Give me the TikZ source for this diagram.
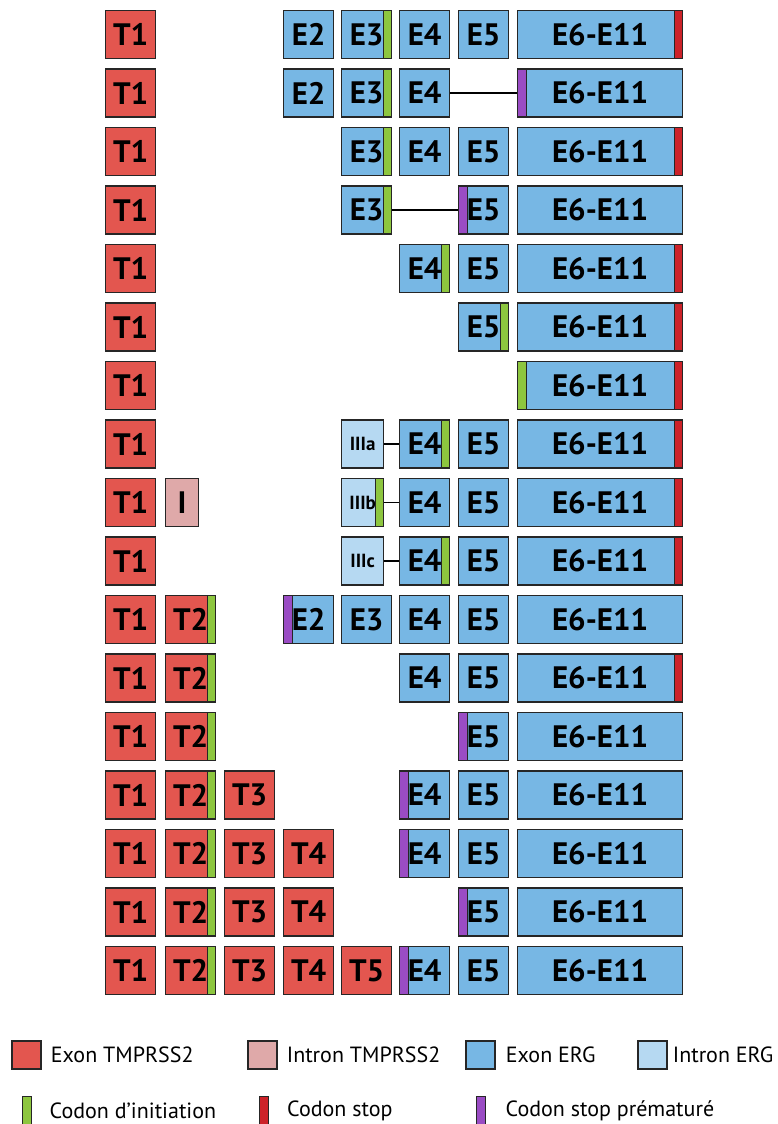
\documentclass[tikz,border=0pt]{standalone}
\usepackage{fontspec}
\setmainfont{PT Sans}
\usepackage{tikz}
\usetikzlibrary{positioning}
\definecolor{tmpexon}{HTML}{E3564F}
\definecolor{tmpintron}{HTML}{DFA9A9}
\definecolor{ergexon}{HTML}{77B7E4}
\definecolor{ergintron}{HTML}{B6D9F2}
\definecolor{codinit}{HTML}{8DC63F}
\definecolor{codstop}{HTML}{CC2229}
\definecolor{codprem}{HTML}{9A4CC4}

\begin{document}
\begin{tikzpicture}[x=1pt,y=-1pt,
		box/.style={draw=black!85,line width=1.3pt,inner sep=0pt,anchor=west,
			minimum width=50pt,minimum height=48pt,font=\bfseries\fontsize{31}{31}\selectfont},
		tmp/.style={box,fill=tmpexon},
		tmpin/.style={box,fill=tmpintron,minimum width=33pt},
		erg/.style={box,fill=ergexon},
		ergin/.style={box,fill=ergintron,minimum width=42pt,font=\bfseries\fontsize{19}{19}\selectfont},
		long/.style={erg,minimum width=165pt},
		init r/.style={path picture={\draw[fill=codinit,line width=0.8pt] ([xshift=-8.5pt]path picture bounding box.north east) rectangle (path picture bounding box.south east);}},
		stop r/.style={path picture={\draw[fill=codstop,line width=0.8pt] ([xshift=-8.5pt]path picture bounding box.north east) rectangle (path picture bounding box.south east);}},
		prem l/.style={path picture={\draw[fill=codprem,line width=0.8pt] (path picture bounding box.north west) rectangle ([xshift=8.5pt]path picture bounding box.south west);}},
		init l stop r/.style={path picture={\draw[fill=codinit,line width=0.8pt] (path picture bounding box.north west) rectangle ([xshift=8.5pt]path picture bounding box.south west);
				\draw[fill=codstop,line width=0.8pt] ([xshift=-8.5pt]path picture bounding box.north east) rectangle (path picture bounding box.south east);}},
		link/.style={line width=1.3pt},
		legsq/.style={draw=black!85,line width=1.3pt,inner sep=0pt,minimum width=29pt,minimum height=28pt},
		legbar/.style={draw=black!85,line width=1pt,inner sep=0pt,minimum width=9pt,minimum height=30pt},
		legtext/.style={inner sep=0pt,font=\fontsize{22}{22}\selectfont}]
	\useasboundingbox (0,0) rectangle (777,1124);

	\node[tmp] (r1t1) at (105,34.5) {T1};
	\node[erg] (r1e2) at (283,34.5) {E2};
	\node[erg,init r] (r1e3) at (341,34.5) {E3};
	\node[erg] (r1e4) at (399,34.5) {E4};
	\node[erg] (r1e5) at (458,34.5) {E5};
	\node[long,stop r] (r1e6) at (517,34.5) {E6-E11};

	\node[tmp] (r2t1) at (105,93) {T1};
	\node[erg] (r2e2) at (283,93) {E2};
	\node[erg,init r] (r2e3) at (341,93) {E3};
	\node[erg] (r2e4) at (399,93) {E4};
	\node[long,prem l] (r2e6) at (517,93) {E6-E11};
	\draw[link] (r2e4) -- (r2e6);

	\node[tmp] (r3t1) at (105,151.5) {T1};
	\node[erg,init r] (r3e3) at (341,151.5) {E3};
	\node[erg] (r3e4) at (399,151.5) {E4};
	\node[erg] (r3e5) at (458,151.5) {E5};
	\node[long,stop r] (r3e6) at (517,151.5) {E6-E11};

	\node[tmp] (r4t1) at (105,210) {T1};
	\node[erg,init r] (r4e3) at (341,210) {E3};
	\node[erg,prem l] (r4e5) at (458,210) {E5};
	\node[long] (r4e6) at (517,210) {E6-E11};
	\draw[link] (r4e3) -- (r4e5);

	\node[tmp] (r5t1) at (105,268.5) {T1};
	\node[erg,init r] (r5e4) at (399,268.5) {E4};
	\node[erg] (r5e5) at (458,268.5) {E5};
	\node[long,stop r] (r5e6) at (517,268.5) {E6-E11};

	\node[tmp] (r6t1) at (105,327) {T1};
	\node[erg,init r] (r6e5) at (458,327) {E5};
	\node[long,stop r] (r6e6) at (517,327) {E6-E11};

	\node[tmp] (r7t1) at (105,385.5) {T1};
	\node[long,init l stop r] (r7e6) at (517,385.5) {E6-E11};

	\node[tmp] (r8t1) at (105,444) {T1};
	\node[ergin] (r8i3) at (341,444) {IIIa};
	\node[erg,init r] (r8e4) at (399,444) {E4};
	\node[erg] (r8e5) at (458,444) {E5};
	\node[long,stop r] (r8e6) at (517,444) {E6-E11};
	\draw[link] (r8i3) -- (r8e4);

	\node[tmp] (r9t1) at (105,502.5) {T1};
	\node[tmpin] (r9i1) at (165,502.5) {I};
	\node[ergin,init r] (r9i3) at (341,502.5) {IIIb};
	\node[erg] (r9e4) at (399,502.5) {E4};
	\node[erg] (r9e5) at (458,502.5) {E5};
	\node[long,stop r] (r9e6) at (517,502.5) {E6-E11};
	\draw[link] (r9i3) -- (r9e4);

	\node[tmp] (r10t1) at (105,561) {T1};
	\node[ergin] (r10i3) at (341,561) {IIIc};
	\node[erg,init r] (r10e4) at (399,561) {E4};
	\node[erg] (r10e5) at (458,561) {E5};
	\node[long,stop r] (r10e6) at (517,561) {E6-E11};
	\draw[link] (r10i3) -- (r10e4);

	\node[tmp] (r11t1) at (105,619.5) {T1};
	\node[tmp,init r] (r11t2) at (165,619.5) {T2};
	\node[erg,prem l] (r11e2) at (283,619.5) {E2};
	\node[erg] (r11e3) at (341,619.5) {E3};
	\node[erg] (r11e4) at (399,619.5) {E4};
	\node[erg] (r11e5) at (458,619.5) {E5};
	\node[long] (r11e6) at (517,619.5) {E6-E11};

	\node[tmp] (r12t1) at (105,678) {T1};
	\node[tmp,init r] (r12t2) at (165,678) {T2};
	\node[erg] (r12e4) at (399,678) {E4};
	\node[erg] (r12e5) at (458,678) {E5};
	\node[long,stop r] (r12e6) at (517,678) {E6-E11};

	\node[tmp] (r13t1) at (105,736.5) {T1};
	\node[tmp,init r] (r13t2) at (165,736.5) {T2};
	\node[erg,prem l] (r13e5) at (458,736.5) {E5};
	\node[long] (r13e6) at (517,736.5) {E6-E11};

	\node[tmp] (r14t1) at (105,795) {T1};
	\node[tmp,init r] (r14t2) at (165,795) {T2};
	\node[tmp] (r14t3) at (224,795) {T3};
	\node[erg,prem l] (r14e4) at (399,795) {E4};
	\node[erg] (r14e5) at (458,795) {E5};
	\node[long] (r14e6) at (517,795) {E6-E11};

	\node[tmp] (r15t1) at (105,853.5) {T1};
	\node[tmp,init r] (r15t2) at (165,853.5) {T2};
	\node[tmp] (r15t3) at (224,853.5) {T3};
	\node[tmp] (r15t4) at (283,853.5) {T4};
	\node[erg,prem l] (r15e4) at (399,853.5) {E4};
	\node[erg] (r15e5) at (458,853.5) {E5};
	\node[long] (r15e6) at (517,853.5) {E6-E11};

	\node[tmp] (r16t1) at (105,912) {T1};
	\node[tmp,init r] (r16t2) at (165,912) {T2};
	\node[tmp] (r16t3) at (224,912) {T3};
	\node[tmp] (r16t4) at (283,912) {T4};
	\node[erg,prem l] (r16e5) at (458,912) {E5};
	\node[long] (r16e6) at (517,912) {E6-E11};

	\node[tmp] (r17t1) at (105,970.5) {T1};
	\node[tmp,init r] (r17t2) at (165,970.5) {T2};
	\node[tmp] (r17t3) at (224,970.5) {T3};
	\node[tmp] (r17t4) at (283,970.5) {T4};
	\node[tmp] (r17t5) at (341,970.5) {T5};
	\node[erg,prem l] (r17e4) at (399,970.5) {E4};
	\node[erg] (r17e5) at (458,970.5) {E5};
	\node[long] (r17e6) at (517,970.5) {E6-E11};

	\node[legsq,fill=tmpexon] (ktmpexon) at (26.5,1055) {};
	\node[legtext,right=9pt of ktmpexon] (ltmpexon) {Exon TMPRSS2};
	\node[legsq,fill=tmpintron] (ktmpintron) at (262.5,1055) {};
	\node[legtext,right=9pt of ktmpintron] (ltmpintron) {Intron TMPRSS2};
	\node[legsq,fill=ergexon] (kergexon) at (480.5,1055) {};
	\node[legtext,right=10pt of kergexon] (lergexon) {Exon ERG};
	\node[legsq,fill=ergintron] (kergintron) at (652.5,1055) {};
	\node[legtext,right=5pt of kergintron] (lergintron) {Intron ERG};

	\node[legbar,fill=codinit] (kinit) at (26.5,1111) {};
	\node[legtext,right=18pt of kinit] (linit) {Codon d’initiation};
	\node[legbar,fill=codstop] (kstop) at (264,1111) {};
	\node[legtext,right=18pt of kstop] (lstop) {Codon stop};
	\node[legbar,fill=codprem] (kprem) at (480.5,1111) {};
	\node[legtext,right=20pt of kprem] (lprem) {Codon stop prématuré};
\end{tikzpicture}
\end{document}
